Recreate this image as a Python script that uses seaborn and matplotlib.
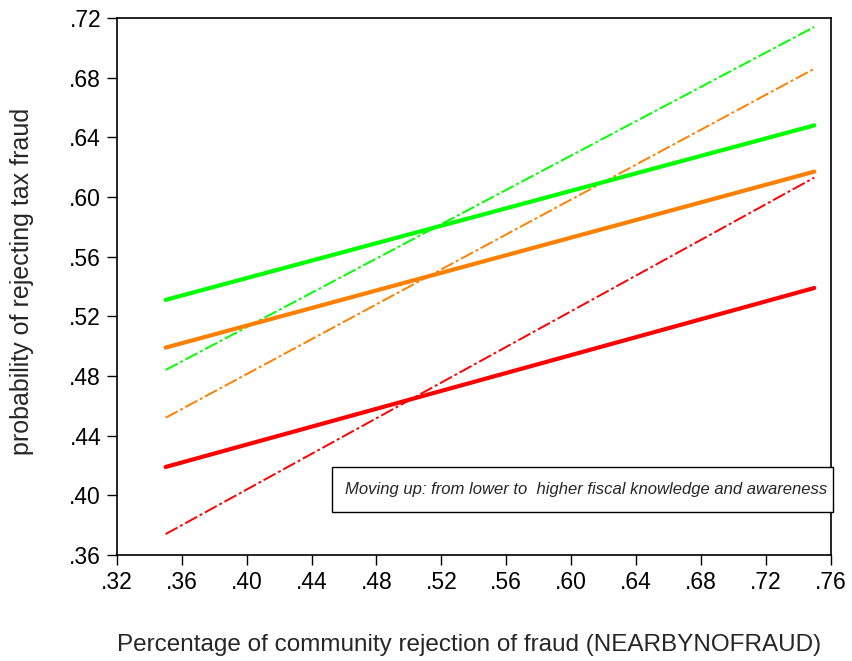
import numpy as np
import pandas as pd
import matplotlib
matplotlib.use('Agg')
import matplotlib.pyplot as plt
import matplotlib.patches as mpatches
import seaborn as sns

# data
nearby = [0.35, 0.75]
solid_low = [0.419, 0.539]
solid_mid = [0.499, 0.617]
solid_high = [0.531, 0.648]
dash_low = [0.374, 0.613]
dash_mid = [0.452, 0.686]
dash_high = [0.484, 0.714]

x_ticks = [.32, .36, .40, .44, .48, .52, .56, .60, .64, .68, .72, .76]
y_ticks = [.36, .40, .44, .48, .52, .56, .60, .64, .68, .72]

sns.set_style('ticks')
plt.rcParams['font.family'] = ['Liberation Sans', 'DejaVu Sans']

fig = plt.figure(figsize=(8.52, 6.61), dpi=100)
ax = fig.add_axes([0.1373, 0.1604, 0.8375, 0.8124])

red, orange, green = '#FF0000', '#FF8000', '#00FF00'
dashdot = (0, (7, 1.5, 1.5, 1.5))

series = [
    (dash_low, red, 1.4, dashdot),
    (dash_mid, orange, 1.4, dashdot),
    (dash_high, green, 1.4, dashdot),
    (solid_low, red, 3.0, '-'),
    (solid_mid, orange, 3.0, '-'),
    (solid_high, green, 3.0, '-'),
]
for vals, col, lw, ls in series:
    df = pd.DataFrame({'x': nearby, 'y': vals})
    sns.lineplot(data=df, x='x', y='y', color=col, linewidth=lw, ax=ax,
                 solid_capstyle='round')
    ax.lines[-1].set_linestyle(ls)

ax.set_xlim(.32, .76)
ax.set_ylim(.36, .72)
ax.set_xticks(x_ticks)
ax.set_yticks(y_ticks)
ax.set_xticklabels([f'{t:.2f}'[1:] for t in x_ticks])
ax.set_yticklabels([f'{t:.2f}'[1:] for t in y_ticks])
ax.tick_params(direction='out', length=7.5, width=1, labelsize=16.5, colors='black', pad=4)
for sp in ax.spines.values():
    sp.set_visible(True)
    sp.set_color('black')
    sp.set_linewidth(1.2)

ax.set_xlabel('Percentage of community rejection of fraud (NEARBYNOFRAUD)',
              fontsize=17.5, va='center')
ax.set_ylabel('probability of rejecting tax fraud', fontsize=18, va='center')
ax.xaxis.set_label_coords(0.494, -0.168)
ax.yaxis.set_label_coords(-0.133, 0.51)

box = mpatches.Rectangle((0.301, 0.080), 0.703, 0.084, transform=ax.transAxes,
                         facecolor='white', edgecolor='black', linewidth=1,
                         clip_on=False, zorder=5)
ax.add_patch(box)
ax.text(0.319, 0.122, 'Moving up: from lower to  higher fiscal knowledge and awareness',
        transform=ax.transAxes, fontsize=12, style='italic', va='center', ha='left',
        zorder=6)

fig.savefig('out.png', dpi=100)
